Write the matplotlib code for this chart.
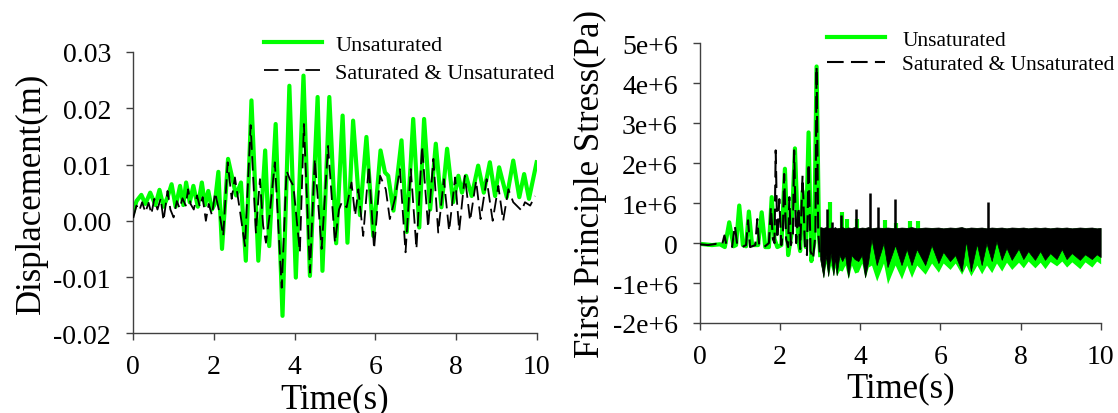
import numpy as np
import matplotlib
matplotlib.use("Agg")
import matplotlib.pyplot as plt

plt.rcParams['font.family'] = ['Liberation Serif', 'DejaVu Serif']

# ---- left panel: displacement (values in mm) ----
disp_green_t = [0, 0.08, 0.2, 0.3, 0.42, 0.55, 0.65, 0.75, 0.85, 0.95, 1.05, 1.16, 1.24, 1.31,
                1.4, 1.49, 1.6, 1.7, 1.78, 1.86, 1.95, 2.02, 2.11, 2.2, 2.35, 2.55, 2.67, 2.79,
                2.93, 3.1, 3.27, 3.37, 3.53, 3.7, 3.87, 4.03, 4.22, 4.38, 4.57, 4.69, 4.86, 5.03,
                5.19, 5.31, 5.45, 5.62, 5.78, 5.95, 6.13, 6.24, 6.32, 6.45, 6.65, 6.78, 6.94, 7.09,
                7.21, 7.36, 7.5, 7.64, 7.78, 7.93, 8.06, 8.15, 8.25, 8.39, 8.55, 8.69, 8.84, 8.97,
                9.07, 9.26, 9.42, 9.57, 9.69, 9.81, 10.0]
disp_green = [1.5, 3.5, 4.6, 3.0, 5.0, 2.8, 5.5, 2.5, 4.2, 6.5, 2.5, 6.2, 2.8, 6.8,
              3.3, 6.2, 2.5, 6.8, 2.8, 5.3, 2.0, 3.0, 8.7, -5.0, 11.0, 4.5, 6.8, -7.1,
              21.4, -7.1, 12.5, -4.5, 17.2, -16.9, 24.0, -10.1, 25.8, -9.8, 22.0, -8.9, 22.0, -4.0,
              18.7, -3.9, 17.8, 1.0, 14.9, -2.7, 12.5, 8.6, 8.0, 1.8, 14.3, -2.0, 18.1, -1.2,
              18.1, 2.0, 13.7, 2.4, 12.8, 3.3, 8.0, 5.0, 8.0, 4.4, 9.8, 5.0, 10.4, 4.4,
              9.5, 4.2, 10.7, 4.2, 8.3, 3.9, 10.4]

disp_black_t = [0, 0.08, 0.15, 0.22, 0.3, 0.38, 0.45, 0.52, 0.6, 0.68, 0.75, 0.85, 0.92, 1.0,
                1.08, 1.15, 1.22, 1.3, 1.36, 1.42, 1.5, 1.58, 1.65, 1.72, 1.8, 1.87, 1.95, 2.03,
                2.12, 2.23, 2.34, 2.44, 2.52, 2.65, 2.77, 2.91, 3.04, 3.14, 3.22, 3.29, 3.38, 3.51,
                3.68, 3.8, 3.88, 3.97, 4.13, 4.23, 4.38, 4.5, 4.67, 4.83, 5.0, 5.1, 5.17, 5.29,
                5.41, 5.5, 5.58, 5.7, 5.84, 5.97, 6.12, 6.26, 6.36, 6.49, 6.61, 6.75, 6.88, 7.02,
                7.16, 7.31, 7.44, 7.56, 7.7, 7.83, 7.98, 8.08, 8.22, 8.35, 8.5, 8.61, 8.76, 8.91,
                9.05, 9.17, 9.3, 9.42, 9.63, 9.71, 9.84, 9.96]
disp_black = [0.5, 2.7, 1.8, 3.3, 1.5, 3.2, 1.2, 3.9, 2.0, 4.0, 0.0, 5.3, 2.0, 0.6,
              3.5, 2.2, 4.0, 2.7, 5.6, 3.0, 2.0, 4.5, 2.5, 4.2, 0.0, 3.0, 1.0, 5.0,
              2.0, -2.7, 10.4, 3.9, 7.7, 1.5, -4.5, 17.0, -2.1, 7.4, -0.9, -3.9, 1.0, 10.4,
              -11.9, 8.9, 7.4, 6.2, -5.6, 17.2, -9.2, 11.0, -5.0, 13.3, -3.9, 2.0, 3.3, 2.4,
              6.8, 0.9, 5.6, -2.7, 9.8, -5.0, 8.0, 5.6, 0.3, 4.0, 9.2, -5.6, 9.2, -5.0,
              13.3, -1.2, 11.0, -2.1, 7.4, -1.8, 7.7, -1.8, 8.0, 0.0, 7.1, 0.3, 7.4, 0.0,
              6.2, 0.0, 5.6, 3.3, 1.8, 3.3, 2.7, 4.4]

disp_ticks = [-0.02, -0.01, 0.0, 0.01, 0.02, 0.03]
disp_ticklabels = ['-0.02', '-0.01', '0.00', '0.01', '0.02', '0.03']
time_ticks = [0, 2, 4, 6, 8, 10]

# ---- right panel: first principle stress (values in MPa) ----
st_green_t = [0, 0.3, 0.5, 0.62, 0.73, 0.84, 0.9, 0.98, 1.07, 1.15, 1.22, 1.3, 1.45, 1.54,
              1.63, 1.72, 1.79, 1.86, 1.93, 2.03, 2.12, 2.2, 2.28, 2.37, 2.45, 2.5, 2.56, 2.64,
              2.71, 2.78, 2.85, 2.91, 2.97, 3.0]
st_green = [-0.02, -0.05, -0.03, -0.1, 0.52, -0.08, -0.05, 0.94, -0.05, -0.08, 0.79, -0.05, -0.05, 0.77,
            -0.1, -0.1, 1.15, 0.1, -0.1, -0.05, 1.86, -0.3, 0.2, 2.37, 0.1, -0.2, 1.3, -0.1,
            2.77, -0.45, 0.0, 4.42, 0.2, -0.3]

st_black_t = [0, 0.2, 0.4, 0.55, 0.61, 0.67, 0.8, 0.87, 0.93, 1.05, 1.15, 1.2, 1.25, 1.38,
              1.43, 1.48, 1.6, 1.72, 1.77, 1.82, 1.86, 1.89, 1.93, 1.98, 2.03, 2.07, 2.1, 2.15,
              2.2, 2.23, 2.27, 2.32, 2.35, 2.4, 2.46, 2.5, 2.56, 2.62, 2.67, 2.71, 2.76, 2.82,
              2.88, 2.91, 2.95, 3.0]
st_black = [-0.03, -0.05, -0.02, -0.05, 0.19, -0.08, -0.1, 0.44, -0.05, -0.1, -0.05, 0.57, -0.1, -0.05,
            0.6, -0.08, -0.1, 0.0, 0.9, 0.1, 0.0, 2.32, 0.1, 1.1, -0.05, 0.3, 1.73, 0.1,
            -0.1, 1.15, -0.05, 0.2, 2.32, 0.0, 0.9, -0.15, 1.69, -0.1, -0.3, 2.0, -0.2, -0.4,
            0.2, 4.42, 0.3, -0.4]

# dense part after 3 s: envelopes of the band
band_t = [3.00, 3.08, 3.14, 3.20, 3.26, 3.33, 3.37, 3.41, 3.48, 3.55, 3.62, 3.70, 3.78, 3.86, 3.95,
          4.04, 4.12, 4.20, 4.28, 4.41, 4.58, 4.68, 4.87, 5.03, 5.16, 5.28, 5.41, 5.62, 5.78, 5.95,
          6.07, 6.24, 6.37, 6.53, 6.64, 6.76, 6.91, 7.03, 7.15, 7.28, 7.40, 7.53, 7.65, 7.78, 7.95,
          8.07, 8.19, 8.36, 8.49, 8.61, 8.74, 8.90, 9.03, 9.15, 9.28, 9.48, 9.61, 9.78, 9.90, 10.0]
band_top = [0.40, 0.38, 0.40, 0.37, 0.39, 0.38, 0.40, 0.37, 0.38, 0.40, 0.37, 0.39, 0.38, 0.40, 0.37,
            0.39, 0.38, 0.40, 0.37, 0.39, 0.38, 0.39, 0.37, 0.39, 0.38, 0.40, 0.37, 0.39, 0.38, 0.39,
            0.37, 0.39, 0.38, 0.40, 0.37, 0.39, 0.38, 0.39, 0.37, 0.39, 0.38, 0.39, 0.37, 0.39, 0.38,
            0.39, 0.37, 0.39, 0.38, 0.39, 0.37, 0.39, 0.38, 0.39, 0.37, 0.39, 0.38, 0.39, 0.37, 0.38]
black_lo = [-0.40, -0.85, -0.30, -0.82, -0.25, -0.80, -0.35, -0.80, -0.30, -0.45, -0.30, -0.85, -0.30, -0.40, -0.45,
            -0.30, -0.85, -0.45, 0.10, -0.55, 0.00, -0.60, -0.05, -0.55, -0.15, -0.55, -0.15, -0.55, -0.05, -0.50,
            -0.22, -0.45, -0.30, -0.70, 0.05, -0.70, -0.02, -0.55, 0.00, -0.45, 0.05, -0.42, -0.12, -0.42, -0.14,
            -0.40, -0.20, -0.42, -0.20, -0.42, -0.25, -0.40, -0.15, -0.40, -0.25, -0.42, -0.28, -0.40, -0.28, -0.35]
green_lo = [-0.45, -0.88, -0.50, -0.85, -0.55, -0.82, -0.60, -0.82, -0.68, -0.70, -0.55, -0.90, -0.55, -0.75, -0.72,
            -0.50, -0.88, -0.60, -0.55, -0.95, -0.50, -1.02, -0.55, -0.90, -0.55, -0.86, -0.55, -0.78, -0.50, -0.73,
            -0.50, -0.66, -0.50, -0.78, -0.55, -0.82, -0.55, -0.77, -0.55, -0.74, -0.50, -0.70, -0.48, -0.66, -0.48,
            -0.62, -0.45, -0.62, -0.48, -0.64, -0.46, -0.57, -0.45, -0.60, -0.47, -0.64, -0.47, -0.60, -0.45, -0.52]

green_spike_t = [3.25, 3.54, 3.66, 3.91, 4.62, 4.90, 5.24, 5.45]
green_spike = [1.02, 0.78, 0.60, 0.60, 0.57, 0.50, 0.55, 0.55]
black_spike_t = [3.16, 3.29, 3.52, 3.89, 4.25, 4.45, 4.87, 7.20]
black_spike = [0.86, 0.53, 0.70, 0.86, 1.25, 0.90, 1.10, 1.03]

stress_ticks = [-2e6, -1e6, 0, 1e6, 2e6, 3e6, 4e6, 5e6]
stress_ticklabels = ['-2e+6', '-1e+6', '0', '1e+6', '2e+6', '3e+6', '4e+6', '5e+6']

labels = ['Unsaturated', 'Saturated & Unsaturated']

GREEN = '#00ff00'
DASH = (0, (8, 3.5))
MPa = 1e6

fig = plt.figure(figsize=(11.18, 4.14), dpi=100)
ax1 = fig.add_axes([0.1192, 0.1925, 0.3608, 0.6795])
ax2 = fig.add_axes([0.6261, 0.2174, 0.3584, 0.6756])

# left
g1, = ax1.plot(disp_green_t, np.array(disp_green) / 1000, color=GREEN, lw=3, zorder=2)
b1, = ax1.plot(disp_black_t, np.array(disp_black) / 1000, color='black', lw=1.3,
               linestyle=DASH, zorder=3)
ax1.set_xlim(0, 10)
ax1.set_ylim(-0.02, 0.03)
ax1.set_yticks(disp_ticks)
ax1.set_yticklabels(disp_ticklabels)
ax1.set_xticks(time_ticks)
ax1.set_xlabel('Time(s)', fontsize=25, labelpad=2)
ax1.set_ylabel('Displacement(m)', fontsize=25, labelpad=4)

# right
g2, = ax2.plot(st_green_t, np.array(st_green) * MPa, color=GREEN, lw=3, zorder=2)
ax2.vlines(green_spike_t, 0.3 * MPa, np.array(green_spike) * MPa, color=GREEN, lw=3, zorder=2)
ax2.fill_between(band_t, np.array(green_lo) * MPa, np.array(band_top) * MPa,
                 color=GREEN, lw=0, zorder=2)
b2, = ax2.plot(st_black_t, np.array(st_black) * MPa, color='black', lw=1.5,
               linestyle=DASH, zorder=3)
ax2.fill_between(band_t, np.array(black_lo) * MPa, np.array(band_top) * MPa,
                 color='black', lw=0.5, zorder=3)
ax2.vlines(black_spike_t, 0.3 * MPa, np.array(black_spike) * MPa, color='black', lw=1.8, zorder=3)
ax2.set_xlim(0, 10)
ax2.set_ylim(-2e6, 5e6)
ax2.set_yticks(stress_ticks)
ax2.set_yticklabels(stress_ticklabels)
ax2.set_xticks(time_ticks)
ax2.set_xlabel('Time(s)', fontsize=25, labelpad=2)
ax2.set_ylabel('First Principle Stress(Pa)', fontsize=25, labelpad=4)

for ax in (ax1, ax2):
    for side in ('top', 'right'):
        ax.spines[side].set_visible(False)
    for side in ('left', 'bottom'):
        ax.spines[side].set_color('#404040')
        ax.spines[side].set_linewidth(1)
    ax.tick_params(axis='both', direction='out', length=5, width=1, color='#404040',
                   labelsize=20)
    ax.tick_params(axis='y', pad=11)
    ax.tick_params(axis='x', pad=10)

ax1.legend([g1, b1], labels, loc='upper left', bbox_to_anchor=(0.2263, 0.942),
           bbox_transform=fig.transFigure, frameon=False, borderpad=0, fontsize=16,
           handlelength=2.6, handletextpad=0.6, labelspacing=0.33)
ax2.legend([g2, b2], labels, loc='upper left', bbox_to_anchor=(0.7299, 0.952),
           bbox_transform=fig.transFigure, frameon=False, borderpad=0, fontsize=15.5,
           handlelength=2.7, handletextpad=0.8, labelspacing=0.2)

fig.savefig('out.png', dpi=100)
